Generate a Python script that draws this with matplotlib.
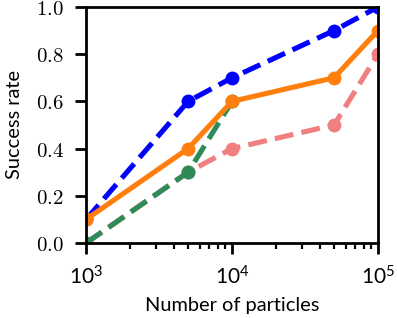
import matplotlib

matplotlib.use("Agg")
import matplotlib.pyplot as plt
import numpy as np

plt.rcParams["mathtext.fontset"] = "cm"
plt.rcParams["font.family"] = ["Lato", "DejaVu Sans"]

particles = [1e3, 5e3, 1e4, 5e4, 1e5]
blue = [0.1, 0.6, 0.7, 0.9, 1.0]
orange = [0.1, 0.4, 0.6, 0.7, 0.9]
green = [0.0, 0.3, 0.6, np.nan, np.nan]
pink = [0.0, 0.3, 0.4, 0.5, 0.8]

fig = plt.figure(figsize=(3.97, 3.18), dpi=100)
ax = fig.add_axes([0.217, 0.236, 0.735, 0.742])

lw = 3.7
ms = 9
ax.plot(particles, pink, "o--", color="#f08080", lw=lw, ms=ms)
ax.plot(particles, green, "o--", color="#2e8b57", lw=lw, ms=ms)
ax.plot(particles, blue, "o--", color="#0000ff", lw=lw, ms=ms)
ax.plot(particles, orange, "o-", color="#ff7f0e", lw=lw, ms=ms)

ax.set_xscale("log")
ax.set_xlim(1e3, 1e5)
ax.set_ylim(0, 1)
ax.set_yticks([0, 0.2, 0.4, 0.6, 0.8, 1.0])
ax.set_yticklabels([f"${v:.1f}$" for v in [0, 0.2, 0.4, 0.6, 0.8, 1.0]])

for s in ax.spines.values():
    s.set_linewidth(2)
ax.tick_params(which="major", length=8, width=2, pad=8, labelsize=15)
ax.tick_params(which="minor", length=4.5, width=1.6)

ax.set_xlabel("Number of particles", fontsize=14.4, labelpad=6)
ax.set_ylabel("Success rate", fontsize=14.4, labelpad=9)

fig.savefig("out.png", dpi=100)
